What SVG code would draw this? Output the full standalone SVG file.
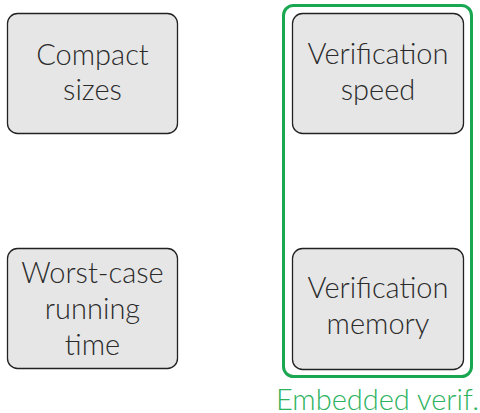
<svg xmlns="http://www.w3.org/2000/svg" width="480" height="413" viewBox="0 0 480 413">
  <style>
    .box { fill: #e6e6e6; stroke: #222; stroke-width: 1.3; }
    .lbl { font-family: "Lato Light", Lato, "Noto Sans", sans-serif; font-weight: 300; font-size: 29px; fill: #2b2b2b; text-anchor: middle; }
    .group { fill: none; stroke: #1aa752; stroke-width: 3; }
    .glbl { font-family: "Lato Light", Lato, "Noto Sans", sans-serif; font-weight: 300; font-size: 29px; fill: #2db360; text-anchor: middle; }
  </style>
  <rect width="480" height="413" fill="#ffffff"/>
  <g id="embedded-verif">
    <rect class="group" x="283.5" y="5.5" width="188" height="371" rx="10"/>
    <text class="glbl" x="377.5" y="410">Embedded verif.</text>
  </g>
  <g id="compact-sizes">
    <rect class="box" x="7.5" y="13.5" width="170" height="120" rx="10"/>
    <text class="lbl" x="92.5" y="65">Compact</text>
    <text class="lbl" x="92.5" y="100">sizes</text>
  </g>
  <g id="verification-speed">
    <rect class="box" x="292.5" y="13.5" width="171" height="120" rx="10"/>
    <text class="lbl" x="378" y="64">Verification</text>
    <text class="lbl" x="378" y="100">speed</text>
  </g>
  <g id="worst-case-running-time">
    <rect class="box" x="7.5" y="248.5" width="170" height="120" rx="10"/>
    <text class="lbl" x="92.5" y="283">Worst-case</text>
    <text class="lbl" x="92.5" y="319">running</text>
    <text class="lbl" x="92.5" y="355">time</text>
  </g>
  <g id="verification-memory">
    <rect class="box" x="292.5" y="248.5" width="171" height="121" rx="10"/>
    <text class="lbl" x="378" y="298">Verification</text>
    <text class="lbl" x="378" y="334">memory</text>
  </g>
  <g id="connectors"/>
</svg>
